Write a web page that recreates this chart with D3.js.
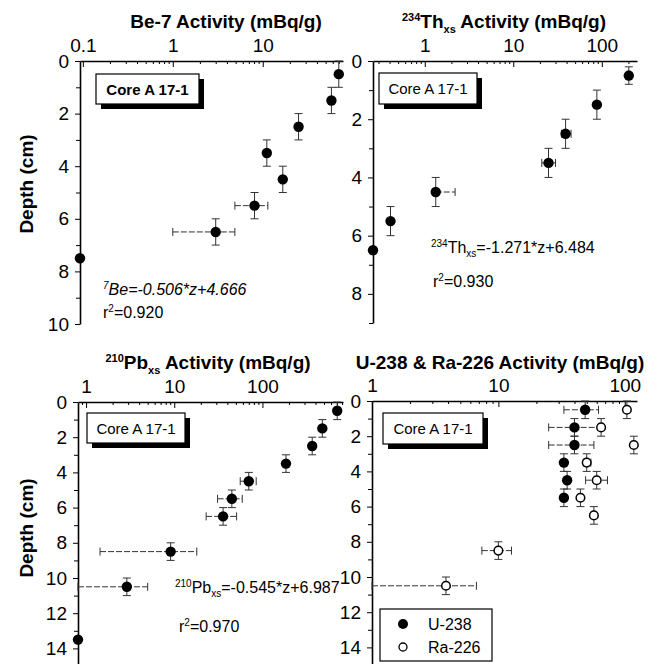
<!DOCTYPE html>
<html><head><meta charset="utf-8">
<script src="https://cdn.jsdelivr.net/npm/d3@7"></script>
<style>
body{margin:0;background:#fff;}
svg{display:block;font-family:"Liberation Sans",Arial,Helvetica,sans-serif;}
.axis path,.axis line{stroke:#000;}
.axis text{font-size:19px;fill:#000;font-family:"Liberation Sans",Arial,sans-serif;}
</style></head>
<body>
<svg id="c" width="660" height="664"></svg>
<script>
// ---------- DATA ----------
// Be-7
const beDepth=[0.5,1.5,2.5,3.5,4.5,5.5,6.5,7.5];
const beValue=[70,58,25,11.1,16.7,8.1,3.0,0.093];
const beXLo=[null,null,null,null,null,4.9,1.0,null];
const beXHi=[null,null,null,null,null,11.4,4.9,null];
const beYErr=[0.5,0.5,0.5,0.5,0.5,0.5,0.5,0];
const beTicks=[0.1,1,10];
// Th-234 xs
const thDepth=[0.5,1.5,2.5,3.5,4.5,5.5,6.5];
const thValue=[202,88,39,25,1.33,0.41,0.26];
const thXLo=[null,null,35,21,null,null,null];
const thXHi=[null,null,45,30,2.2,null,null];
const thYErr=[0.3,0.5,0.5,0.5,0.5,0.5,0];
const thTicks=[1,10,100];
// Pb-210 xs
const pbDepth=[0.5,1.5,2.5,3.5,4.5,5.5,6.5,8.5,10.5,13.5];
const pbValue=[705,478,367,185,70,45,35.8,9.1,2.9,0.81];
const pbXLo=[null,null,null,null,56,31,23,1.44,0.81,null];
const pbXHi=[null,null,null,null,85,59,51,18,5.0,null];
const pbYErr=[0.5,0.5,0.5,0.5,0.5,0.5,0.5,0.5,0.5,0];
const pbTicks=[1,10,100];
// U-238
const uDepth=[0.5,1.5,2.5,3.5,4.5,5.5];
const uValue=[48.6,40,40,33,35,33];
const uXLo=[33,25,25,null,null,null];
const uXHi=[62,65,57,null,null,null];
const uYErr=[0.5,0.5,0.5,0.5,0.5,0.5];
// Ra-226
const raDepth=[0.5,1.5,2.5,3.5,4.5,5.5,6.5,8.5,10.5];
const raValue=[104,65,118,50,60,44.6,57,10,3.85];
const raXLo=[null,null,null,47,49,null,null,7.4,1.0];
const raXHi=[null,null,null,54,73,null,null,12.7,6.7];
const raYErr=[0.5,0.5,0.5,0.5,0.5,0.5,0.5,0.5,0.5];
const urTicks=[1,10,100];

const coreLabel="Core A 17-1";
const legendLabels=["U-238","Ra-226"];

// ---------- DRAW ----------
const svg=d3.select("#c");

function panel(o){
  const g=svg.append("g");
  const x=d3.scaleLog().domain(o.xd).range(o.xr);
  const y=d3.scaleLinear().domain(o.yd).range(o.yr);
  const minor=[];
  const lo=Math.floor(Math.log10(o.xd[0])), hi=Math.ceil(Math.log10(o.xd[1]));
  for(let e=lo;e<=hi;e++) for(let m=2;m<=9;m++){const v=m*Math.pow(10,e); if(v>=o.xd[0]&&v<=o.xd[1]) minor.push(v);}
  g.append("g").attr("class","axis").attr("transform",`translate(0,${o.yr[0]})`)
    .call(d3.axisTop(x).tickValues(minor).tickSize(-3).tickFormat(""))
    .call(s=>s.select(".domain").remove());
  g.append("g").attr("class","axis").attr("transform",`translate(0,${o.yr[0]})`)
    .call(d3.axisTop(x).tickValues(o.ticks).tickSizeInner(-6).tickSizeOuter(0).tickPadding(9).tickFormat(d=>d3.format("~g")(d)))
    .call(s=>s.select(".domain").attr("stroke-width",1.3));
  const yMaj=d3.range(o.yd[0],o.yd[1]+0.01,2);
  const yMin=d3.range(o.yd[0]+1,o.yd[1]+0.01,2);
  g.append("g").attr("class","axis").attr("transform",`translate(${o.xr[0]},0)`)
    .call(d3.axisLeft(y).tickValues(yMin).tickSize(4).tickFormat(""))
    .call(s=>s.select(".domain").remove());
  g.append("g").attr("class","axis").attr("transform",`translate(${o.xr[0]},0)`)
    .call(d3.axisLeft(y).tickValues(yMaj).tickSizeInner(5).tickSizeOuter(0).tickPadding(6).tickFormat(d3.format("d")))
    .call(s=>s.select(".domain").attr("stroke-width",1.6));
  return {g,x,y};
}

function series(p,depth,val,xlo,xhi,yerr,open){
  const eg=p.g.append("g").attr("stroke","#333").attr("stroke-width",1).attr("fill","none");
  depth.forEach((d,i)=>{
    const cx=p.x(val[i]), cy=p.y(d);
    if(yerr[i]>0){
      const y1=p.y(d-yerr[i]), y2=p.y(d+yerr[i]);
      eg.append("line").attr("x1",cx).attr("x2",cx).attr("y1",y1).attr("y2",y2);
      eg.append("line").attr("x1",cx-4).attr("x2",cx+4).attr("y1",y1).attr("y2",y1);
      eg.append("line").attr("x1",cx-4).attr("x2",cx+4).attr("y1",y2).attr("y2",y2);
    }
    const a=xlo[i]!=null?p.x(xlo[i]):cx, b=xhi[i]!=null?p.x(xhi[i]):cx;
    if(a!==b){
      eg.append("line").attr("x1",a).attr("x2",b).attr("y1",cy).attr("y2",cy).attr("stroke-dasharray","6,2");
      if(xlo[i]!=null) eg.append("line").attr("x1",a).attr("x2",a).attr("y1",cy-4).attr("y2",cy+4);
      if(xhi[i]!=null) eg.append("line").attr("x1",b).attr("x2",b).attr("y1",cy-4).attr("y2",cy+4);
    }
  });
  p.g.append("g").selectAll("circle").data(depth).join("circle")
    .attr("cx",(d,i)=>p.x(val[i])).attr("cy",d=>p.y(d))
    .attr("r",open?4.3:5.2)
    .attr("fill",open?"#fff":"#000").attr("stroke","#000").attr("stroke-width",open?1.5:0);
}

function coreBox(x0,y0,w,h,bold){
  svg.append("rect").attr("x",x0+5).attr("y",y0+5).attr("width",w).attr("height",h).attr("fill","#000");
  svg.append("rect").attr("x",x0).attr("y",y0).attr("width",w).attr("height",h).attr("fill","#fff").attr("stroke","#000").attr("stroke-width",1.2);
  svg.append("text").attr("x",x0+w/2).attr("y",y0+h/2+5.5).attr("text-anchor","middle")
    .attr("font-size",15).attr("font-weight",bold?"bold":"normal").text(coreLabel);
}

function title(x,y,parts){
  const t=svg.append("text").attr("x",x).attr("y",y).attr("text-anchor","middle").attr("font-weight","bold");
  parts.forEach(p=>t.append("tspan").attr("font-size",p[1]).attr("dy",p[2]||0).text(p[0]));
  return t;
}
function ytitle(cx,cy){
  svg.append("text").attr("transform",`translate(${cx},${cy}) rotate(-90)`).attr("text-anchor","middle")
    .attr("font-size",19).attr("font-weight","bold").text("Depth (cm)");
}
function rich(x,y,parts,italic){
  const t=svg.append("text").attr("x",x).attr("y",y).attr("font-size",16).attr("font-style",italic?"italic":"normal");
  parts.forEach(p=>t.append("tspan").attr("font-size",p[1]).attr("dy",p[2]||0).text(p[0]));
}

// Panel 1
const p1=panel({xd:[0.093,78],xr:[80,343],yd:[0,10],yr:[61,324],ticks:beTicks});
series(p1,beDepth,beValue,beXLo,beXHi,beYErr,false);
title(226,28,[["Be-7 Activity (mBq/g)",19]]);
ytitle(33,184);
coreBox(96,74,103,30,true);
rich(103,295,[["7",10,-6],["Be=-0.506*z+4.666",16,6]],true);
rich(103,318,[["r",16],["2",10,-6],["=0.920",16,6]],false);

// Panel 2
const p2=panel({xd:[0.26,250],xr:[373,637],yd:[0,9],yr:[61,323],ticks:thTicks});
series(p2,thDepth,thValue,thXLo,thXHi,thYErr,false);
title(504,28,[["234",11,-7],["Th",19,7],["xs",11,5],[" Activity (mBq/g)",19,-5]]);
coreBox(379,73,98,31,false);
rich(431,253,[["234",10,-6],["Th",16,6],["xs",10,4],["=-1.271*z+6.484",16,-4]]);
rich(433,287,[["r",16],["2",10,-6],["=0.930",16,6]]);

// Panel 3
const p3=panel({xd:[0.81,820],xr:[78,343],yd:[0,15],yr:[402,666],ticks:pbTicks});
series(p3,pbDepth,pbValue,pbXLo,pbXHi,pbYErr,false);
title(208,369,[["210",11,-7],["Pb",19,7],["xs",11,5],[" Activity (mBq/g)",19,-5]]);
ytitle(33,528);
coreBox(87,413,98,30,false);
rich(175,593,[["210",10,-6],["Pb",16,6],["xs",10,4],["=-0.545*z+6.987",16,-4]]);
rich(179,632,[["r",16],["2",10,-6],["=0.970",16,6]]);

// Panel 4
const p4=panel({xd:[1,125],xr:[372,637],yd:[0,15],yr:[401,665],ticks:urTicks});
series(p4,uDepth,uValue,uXLo,uXHi,uYErr,false);
series(p4,raDepth,raValue,raXLo,raXHi,raYErr,true);
title(500,369,[["U-238 & Ra-226 Activity (mBq/g)",19]]);
coreBox(383,413,100,31,false);
svg.append("rect").attr("x",380).attr("y",609).attr("width",112).attr("height",52).attr("fill","#fff").attr("stroke","#000").attr("stroke-width",1.2);
const leg=svg.append("g");
legendLabels.forEach((l,i)=>{
  const yy=624+i*23;
  leg.append("circle").attr("cx",403).attr("cy",yy).attr("r",i?4:5)
    .attr("fill",i?"#fff":"#000").attr("stroke","#000").attr("stroke-width",i?1.3:0);
  leg.append("text").attr("x",428).attr("y",yy+6).attr("font-size",16).text(l);
});
</script>
</body></html>
